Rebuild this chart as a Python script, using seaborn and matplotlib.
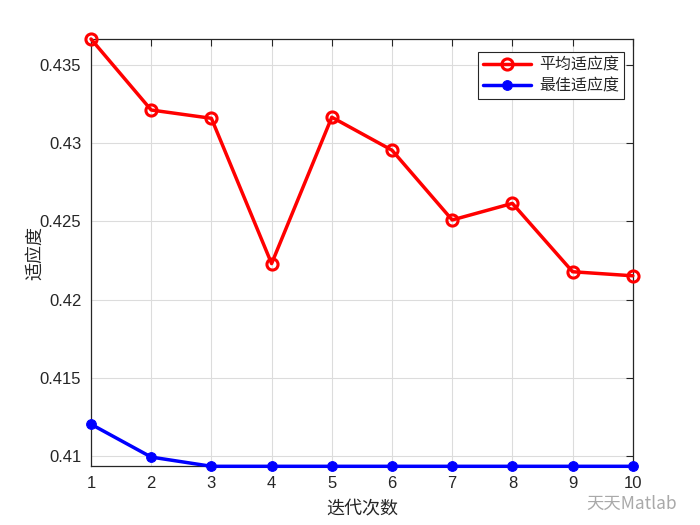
import matplotlib
matplotlib.use("Agg")
import matplotlib.pyplot as plt
import seaborn as sns
import pandas as pd
import numpy as np

iterations = [1, 2, 3, 4, 5, 6, 7, 8, 9, 10]
avg_fitness = [0.43666, 0.43212, 0.43159, 0.42230, 0.43166, 0.42955, 0.42509, 0.42615, 0.42178, 0.42152]
best_fitness = [0.41203, 0.40993, 0.40934, 0.40934, 0.40934, 0.40934, 0.40934, 0.40934, 0.40934, 0.40934]
series_names = ["平均适应度", "最佳适应度"]
y_ticks = [0.41, 0.415, 0.42, 0.425, 0.43, 0.435]
y_tick_labels = ["0.41", "0.415", "0.42", "0.425", "0.43", "0.435"]

sns.set_style("white")
plt.rcParams['font.family'] = ['Liberation Sans', 'Noto Sans CJK SC', 'DejaVu Sans']
cjk = ['Noto Sans CJK SC', 'DejaVu Sans']

df = pd.DataFrame({
    "iter": iterations * 2,
    "val": avg_fitness + best_fitness,
    "series": [series_names[0]] * len(iterations) + [series_names[1]] * len(iterations),
})

fig = plt.figure(figsize=(7, 5.25), dpi=100)
ax = fig.add_axes([0.13, 0.1118, 0.774, 0.8139])

sns.lineplot(data=df[df.series == series_names[0]], x="iter", y="val", ax=ax,
             color="#ff0000", linewidth=2.5, marker="o", markersize=8,
             markerfacecolor="none", markeredgecolor="#ff0000", markeredgewidth=2.2,
             label=series_names[0], clip_on=False, zorder=3)
sns.lineplot(data=df[df.series == series_names[1]], x="iter", y="val", ax=ax,
             color="#0000ff", linewidth=2.5, marker="o", markersize=7,
             markerfacecolor="#0000ff", markeredgecolor="#0000ff",
             label=series_names[1], clip_on=False, zorder=3)

ax.set_xlim(1, 10)
ax.set_ylim(min(best_fitness), max(avg_fitness))
ax.set_xticks(iterations)
ax.set_xticklabels([str(i) for i in iterations])
ax.set_yticks(y_ticks)
ax.set_yticklabels(y_tick_labels)

ax.grid(True, color="#dcdcdc", linewidth=0.8)
ax.set_axisbelow(True)
for s in ax.spines.values():
    s.set_visible(True)
    s.set_color("#262626")
    s.set_linewidth(0.9)
ax.tick_params(direction="in", length=5, width=0.8, top=True, right=True,
               labelsize=12, colors="#262626", pad=7)
for lbl in ax.get_xticklabels() + ax.get_yticklabels():
    lbl.set_color("#262626")

ax.set_xlabel("迭代次数", fontsize=13, family=cjk, color="#262626", labelpad=6)
ax.set_ylabel("适应度", fontsize=13, family=cjk, color="#262626", labelpad=-3)

leg = ax.legend(loc="upper right", bbox_to_anchor=(0.983, 0.97), borderaxespad=0,
                prop={'family': cjk, 'size': 11.5},
                frameon=True, fancybox=False, edgecolor="#262626", framealpha=1,
                handlelength=3.0, borderpad=0.3, labelspacing=0.25, handletextpad=0.5)
leg.get_frame().set_linewidth(0.8)

fig.text(0.967, 0.04, "天天Matlab", family=cjk, fontsize=12.5, color="#9a9a9a",
         ha="right", va="center", alpha=0.85)

fig.savefig("out.png", dpi=100)
